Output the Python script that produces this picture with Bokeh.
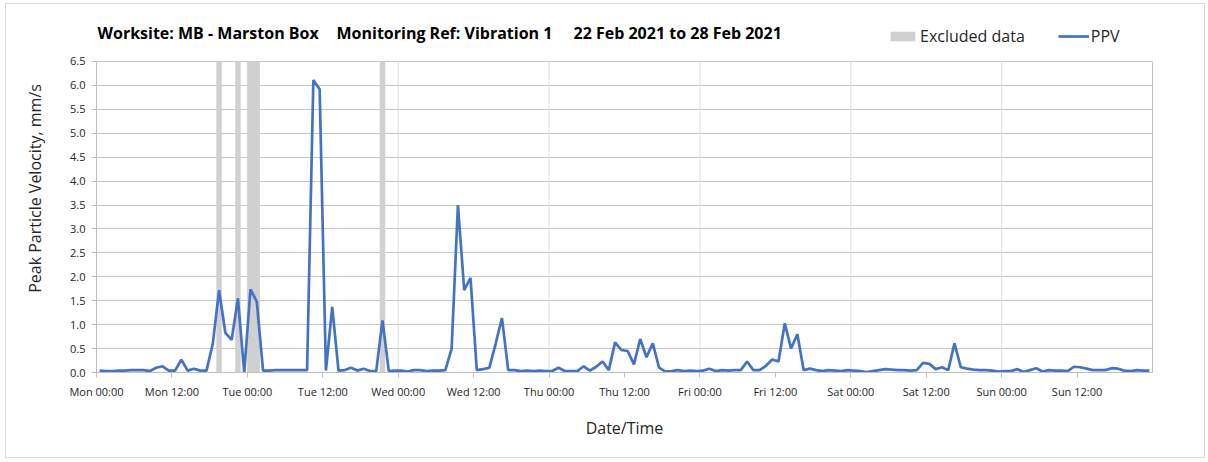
import pandas as pd
from bokeh.plotting import figure
from bokeh.models import (Range1d, FixedTicker, DatetimeTickFormatter, Legend,
                          LegendItem, Label, NumeralTickFormatter, LinearAxis)
from bokeh.embed import file_html
from bokeh.resources import INLINE

# ---------------- data ----------------
ppv = [
    0.04, 0.03, 0.03, 0.04, 0.04, 0.05, 0.05, 0.05, 0.03, 0.10, 0.13, 0.04,
    0.04, 0.27, 0.04, 0.08, 0.04, 0.04, 0.60, 1.72, 0.83, 0.68, 1.55, 0.00,
    1.74, 1.48, 0.04, 0.04, 0.05, 0.05, 0.05, 0.05, 0.05, 0.05, 6.11, 5.92,
    0.04, 1.37, 0.04, 0.05, 0.10, 0.04, 0.08, 0.03, 0.03, 1.09, 0.03, 0.04,
    0.04, 0.02, 0.05, 0.05, 0.03, 0.04, 0.04, 0.05, 0.50, 3.50, 1.72, 1.98,
    0.05, 0.07, 0.10, 0.60, 1.14, 0.05, 0.05, 0.03, 0.04, 0.03, 0.04, 0.03,
    0.03, 0.10, 0.03, 0.03, 0.03, 0.13, 0.04, 0.12, 0.23, 0.05, 0.63, 0.47,
    0.45, 0.17, 0.70, 0.32, 0.61, 0.10, 0.02, 0.03, 0.05, 0.03, 0.04, 0.03,
    0.04, 0.08, 0.03, 0.05, 0.04, 0.05, 0.05, 0.23, 0.05, 0.05, 0.14, 0.27,
    0.23, 1.03, 0.50, 0.80, 0.05, 0.08, 0.05, 0.03, 0.05, 0.04, 0.03, 0.05,
    0.04, 0.03, 0.01, 0.03, 0.05, 0.07, 0.06, 0.05, 0.05, 0.04, 0.05, 0.20,
    0.18, 0.07, 0.11, 0.05, 0.61, 0.11, 0.08, 0.06, 0.05, 0.05, 0.04, 0.02,
    0.03, 0.03, 0.07, 0.01, 0.05, 0.09, 0.02, 0.05, 0.04, 0.04, 0.03, 0.12,
    0.11, 0.08, 0.05, 0.05, 0.05, 0.09, 0.08, 0.04, 0.03, 0.05, 0.04, 0.04,
]
sample_times = pd.date_range("2021-02-22 00:30", periods=len(ppv), freq="h")

excluded_start = pd.to_datetime(["2021-02-22 19:04", "2021-02-22 22:04",
                                 "2021-02-23 00:00", "2021-02-23 21:04"])
excluded_end = pd.to_datetime(["2021-02-22 19:56", "2021-02-22 22:56",
                               "2021-02-23 02:00", "2021-02-23 21:56"])

x_start = pd.Timestamp("2021-02-22 00:00")
x_end = pd.Timestamp("2021-03-01 00:00")
x_ticks = pd.date_range("2021-02-22 00:00", "2021-02-28 12:00", freq="12h")
day_lines = pd.date_range("2021-02-23 00:00", "2021-02-28 00:00", freq="D")
y_min, y_max = 0.0, 6.5
y_ticks = [0.0, 0.5, 1.0, 1.5, 2.0, 2.5, 3.0, 3.5, 4.0, 4.5, 5.0, 5.5, 6.0, 6.5]

title_parts = ["Worksite: MB - Marston Box", "Monitoring Ref: Vibration 1",
               "22 Feb 2021 to 28 Feb 2021"]


def to_ms(ts):
    return [t.value // 10**6 for t in ts]


FONT = "Open Sans"
TXT = "#262626"
FRAME = "#bfbfbf"

# layout geometry (pixels)
W, H = 1200, 455
FRAME_L, FRAME_R, FRAME_B = 90, 54, 87
PX_PER_UNIT = 47.85
y_view_top = (H - FRAME_B) / PX_PER_UNIT   # headroom above 6.5 holds title/legend

p = figure(width=W, height=H, x_axis_type="datetime",
           x_range=Range1d(x_start, x_end), y_range=Range1d(y_min, y_view_top),
           output_backend="svg", toolbar_location=None,
           min_border_left=FRAME_L, min_border_right=FRAME_R,
           min_border_top=0, min_border_bottom=FRAME_B)
p.styles = {"border": "1px solid #d9d9d9", "margin-left": "5px", "margin-top": "3px"}
p.background_fill_color = "white"
p.border_fill_color = "white"
p.outline_line_color = None

# vertical day grid lines (limited to the value axis extent)
p.segment(x0=day_lines, y0=y_min, x1=day_lines, y1=y_max,
          line_color="#dcdcdc", line_width=1)
# excluded bands
bands = p.quad(left=excluded_start, right=excluded_end, bottom=y_min, top=y_max,
               fill_color="#d0d0d0", line_color=None)
# PPV line
ln = p.line(sample_times, ppv, line_color="#4472C4", line_width=2.7)

# grids
p.ygrid.ticker = FixedTicker(ticks=y_ticks)
p.ygrid.grid_line_color = "#c6c6c6"
p.xgrid.grid_line_color = None

# axes
p.xaxis.ticker = FixedTicker(ticks=to_ms(x_ticks))
fmt = "%a %H:%M"
p.xaxis.formatter = DatetimeTickFormatter(hours=fmt, days=fmt, hourmin=fmt,
                                          minutes=fmt, months=fmt, years=fmt)
p.yaxis.ticker = FixedTicker(ticks=y_ticks)
p.yaxis.formatter = NumeralTickFormatter(format="0.0")
p.yaxis.bounds = (y_min, y_max)
for ax in (p.xaxis[0], p.yaxis[0]):
    ax.axis_line_color = FRAME
    ax.major_tick_line_color = FRAME
    ax.major_tick_in = 0
    ax.major_tick_out = 5
    ax.minor_tick_line_color = None
    ax.major_label_text_font = FONT
    ax.major_label_text_font_size = "11px"
    ax.major_label_text_color = TXT
    ax.axis_label_text_font = FONT
    ax.axis_label_text_font_size = "16px"
    ax.axis_label_text_font_style = "normal"
    ax.axis_label_text_color = TXT
p.xaxis.major_label_standoff = 6
p.yaxis.major_label_standoff = 6
p.xaxis.axis_label = "Date/Time"
p.yaxis.axis_label = "Peak Particle Velocity, mm/s"
p.xaxis.axis_label_standoff = 15
p.yaxis.axis_label_standoff = 21

# right frame edge
right_axis = LinearAxis(bounds=(y_min, y_max), axis_line_color=FRAME,
                        major_tick_line_color=None, minor_tick_line_color=None,
                        major_label_text_font_size="0px", ticker=FixedTicker(ticks=[]))
p.add_layout(right_axis, "right")

# title (three parts), positioned in screen px from frame bottom-left
title_x = [1, 240, 477]
for txt, tx in zip(title_parts, title_x):
    p.add_layout(Label(x=tx, y=340, x_units="screen", y_units="screen",
                       text=txt, text_font=FONT, text_font_size="16px",
                       text_font_style="bold", text_color="black",
                       text_baseline="middle", text_align="left"))

legend = Legend(items=[LegendItem(label="Excluded data", renderers=[bands]),
                       LegendItem(label="PPV", renderers=[ln])],
                orientation="horizontal", location=(791, 325),
                border_line_alpha=0, background_fill_alpha=0,
                glyph_width=31, glyph_height=12, label_standoff=2, spacing=33,
                padding=0, margin=0, label_text_font=FONT,
                label_text_font_size="16px", label_text_color=TXT)
p.add_layout(legend)

open("out.html", "w").write(file_html(p, INLINE))
